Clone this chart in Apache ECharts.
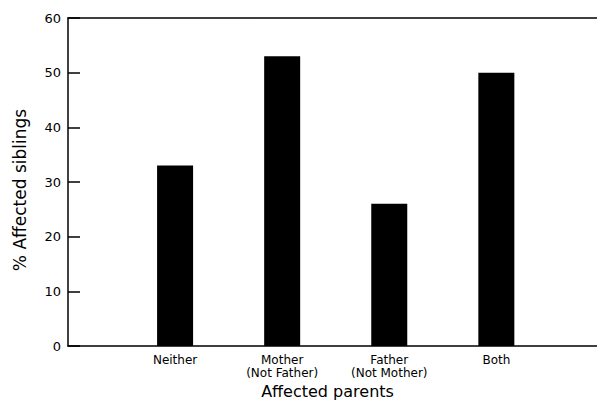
<!DOCTYPE html>
<html>
<head>
<meta charset="utf-8">
<script src="https://cdn.jsdelivr.net/npm/echarts@6/dist/echarts.min.js"></script>
<style>
  html, body { margin: 0; padding: 0; background: #ffffff; }
  #chart { width: 597px; height: 402px; }
</style>
</head>
<body>
<div id="chart"></div>
<script>
const categories = ['Neither', 'Mother\n(Not Father)', 'Father\n(Not Mother)', 'Both'];
const affectedSiblings = [33, 53, 26, 50];
const yTicks = [0, 10, 20, 30, 40, 50, 60];

const FONT = 'DejaVu Sans, Liberation Sans, Arial, sans-serif';

// bars sit at x = 1..4 on a value axis so the empty margin on the right matches
const barData = affectedSiblings.map((v, i) => [i + 1, v]);

const chart = echarts.init(document.getElementById('chart'), null, { renderer: 'svg' });

chart.setOption({
  animation: false,
  backgroundColor: '#ffffff',
  textStyle: { fontFamily: FONT, color: '#000' },
  grid: { left: 68, top: 18, right: 0, bottom: 56, outerBoundsMode: 'none', containLabel: false },
  xAxis: [
    {
      type: 'value',
      min: 0,
      max: 4.94,
      interval: 1,
      name: 'Affected parents',
      nameLocation: 'middle',
      nameGap: 37,
      nameTextStyle: { fontSize: 16, lineHeight: 16, color: '#000', fontFamily: FONT, padding: [0, 10, 0, 0] },
      splitLine: { show: false },
      axisTick: { show: false },
      axisLine: { show: true, onZero: false, lineStyle: { color: '#000', width: 1.5 } },
      axisLabel: {
        margin: 7,
        fontSize: 12,
        lineHeight: 13,
        color: '#000',
        fontFamily: FONT,
        showMinLabel: false,
        showMaxLabel: false,
        formatter: (v) => categories[v - 1] || ''
      }
    },
    {
      type: 'value',
      position: 'top',
      min: 0,
      max: 4.94,
      splitLine: { show: false },
      axisTick: { show: false },
      axisLabel: { show: false },
      axisLine: { show: true, onZero: false, lineStyle: { color: '#000', width: 1.5 } }
    }
  ],
  yAxis: {
    type: 'value',
    min: 0,
    max: 60,
    interval: 10,
    name: '% Affected siblings',
    nameLocation: 'middle',
    nameGap: 40,
    nameTextStyle: { fontSize: 17, color: '#000', fontFamily: FONT, padding: [0, 16, 0, 0] },
    splitLine: { show: false },
    axisLine: { show: true, lineStyle: { color: '#000', width: 1.5 } },
    axisTick: { show: true, inside: true, length: 12, lineStyle: { color: '#000', width: 1.5 } },
    axisLabel: {
      margin: 7,
      fontSize: 13,
      color: '#000',
      fontFamily: FONT,
      formatter: (v) => (yTicks.includes(v) ? String(v) : '')
    }
  },
  series: [
    {
      type: 'bar',
      data: barData,
      barWidth: 36,
      itemStyle: { color: '#000' }
    }
  ]
});
</script>
</body>
</html>
